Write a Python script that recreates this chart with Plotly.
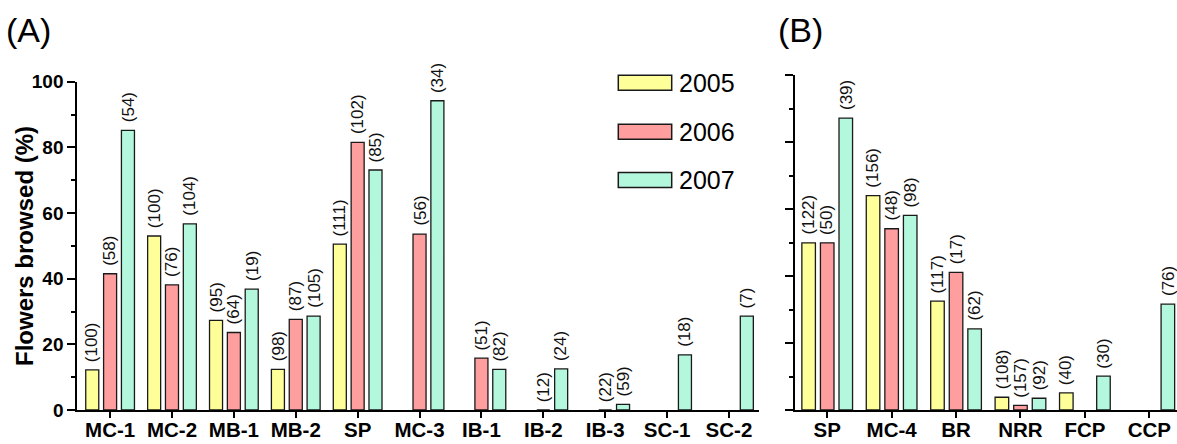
import plotly.graph_objects as go

W, H = 1177, 444

years = ["2005", "2006", "2007"]
colors = ["#FFFF99", "#FF9E9E", "#B3F7DD"]

# Panel A
cats_a = ["MC-1", "MC-2", "MB-1", "MB-2", "SP", "MC-3", "IB-1", "IB-2", "IB-3", "SC-1", "SC-2"]
a_2005 = [12.2, 53.0, 27.3, 12.4, 50.5, None, None, None, None, None, None]
a_2006 = [41.5, 38.1, 23.6, 27.6, 81.5, 53.6, 15.8, 0, 0, None, None]
a_2007 = [85.2, 56.7, 36.8, 28.6, 73.1, 94.2, 12.4, 12.5, 1.7, 16.8, 28.6]
n_a_2005 = [100, 100, 95, 98, 111, None, None, None, None, None, None]
n_a_2006 = [58, 76, 64, 87, 102, 56, 51, 12, 22, None, None]
n_a_2007 = [54, 104, 19, 105, 85, 34, 82, 24, 59, 18, 7]

# Panel B
cats_b = ["SP", "MC-4", "BR", "NRR", "FCP", "CCP"]
b_2005 = [49.9, 64.0, 32.5, 3.8, 5.1, None]
b_2006 = [49.9, 54.1, 41.1, 1.4, None, None]
b_2007 = [87.1, 58.1, 24.2, 3.5, 10.1, 31.6]
n_b_2005 = [122, 156, 117, 108, 40, None]
n_b_2006 = [50, 48, 17, 157, None, None]
n_b_2007 = [39, 98, 62, 92, 30, 76]

BARGAP = 0.135
BARGROUPGAP = 0.27
SLOT = (1 - BARGAP) / 3

def px_x(p):
    return p / W

def px_y(p):
    return (H - p) / H

fig = go.Figure()
annotations = []

panels = [
    ("x", "y", cats_a, [a_2005, a_2006, a_2007], [n_a_2005, n_a_2006, n_a_2007]),
    ("x2", "y2", cats_b, [b_2005, b_2006, b_2007], [n_b_2005, n_b_2006, n_b_2007]),
]
for xa, ya, cats, series, counts in panels:
    for j, (yr, col, vals, ns) in enumerate(zip(years, colors, series, counts)):
        fig.add_trace(go.Bar(
            x=cats, y=vals, name=yr, xaxis=xa, yaxis=ya,
            marker=dict(color=col, line=dict(color="#1a1a1a", width=1.3)),
            showlegend=False,
        ))
        for i, (v, n) in enumerate(zip(vals, ns)):
            if n is None:
                continue
            annotations.append(dict(
                x=i + (j - 1) * SLOT, y=v if v is not None else 0,
                xref=xa, yref=ya, text=f"({n})", showarrow=False,
                textangle=-90, xanchor="center", yanchor="bottom", yshift=6,
                font=dict(family="Liberation Sans", size=17, color="#111"),
            ))

axis_common = dict(showline=True, linecolor="black", linewidth=2, mirror=False,
                   showgrid=False, zeroline=False, ticks="outside", tickcolor="black",
                   tickwidth=2, automargin=False)

xtickfont = dict(family="Liberation Sans", size=20.5, color="black", weight="bold")
ytickfont = dict(family="Liberation Sans", size=19, color="black", weight="bold")

fig.update_layout(
    width=W, height=H, margin=dict(l=0, r=0, t=0, b=0, autoexpand=False),
    paper_bgcolor="white", plot_bgcolor="white",
    barmode="group", bargap=BARGAP, bargroupgap=BARGROUPGAP,
    xaxis=dict(domain=[px_x(77.3), px_x(759.3)], anchor="y", type="category",
               range=[-0.53, 10.49], ticklen=6, tickfont=xtickfont,
               ticklabelstandoff=-6, **axis_common),
    yaxis=dict(domain=[px_y(410), px_y(81.7)], anchor="x", range=[0, 100],
               tickvals=[0, 20, 40, 60, 80, 100], ticklen=8, tickfont=ytickfont,
               minor=dict(dtick=10, tick0=0, ticklen=4, tickwidth=2, tickcolor="black", ticks="outside"),
               **axis_common),
    xaxis2=dict(domain=[px_x(795), 1.0], anchor="y2", type="category",
                range=[-0.5, 5.43], ticklen=6, tickfont=xtickfont,
                ticklabelstandoff=-6, **axis_common),
    yaxis2=dict(domain=[px_y(410), px_y(75)], anchor="x2", range=[0, 100],
                tickvals=[0, 20, 40, 60, 80, 100], ticklen=8, showticklabels=False,
                minor=dict(dtick=10, tick0=0, ticklen=4, tickwidth=2, tickcolor="black", ticks="outside"),
                **axis_common),
)

# Axis title
annotations.append(dict(x=px_x(24), y=px_y(246), xref="paper", yref="paper",
                        text="Flowers browsed (%)", showarrow=False, textangle=-90,
                        xanchor="center", yanchor="middle",
                        font=dict(family="Liberation Sans", size=24, color="black", weight="bold")))
# Panel labels
for lab, xp in [("(A)", 4), ("(B)", 776)]:
    annotations.append(dict(x=px_x(xp), y=px_y(30), xref="paper", yref="paper",
                            text=lab, showarrow=False, xanchor="left", yanchor="middle",
                            font=dict(family="Liberation Sans", size=34, color="black")))

# Legend drawn as swatches + text
shapes = []
row_y = [82.7, 131.7, 180.0]
for yr, col, yc in zip(years, colors, row_y):
    shapes.append(dict(type="rect", xref="paper", yref="paper",
                       x0=px_x(618.3), x1=px_x(671.7), y0=px_y(yc + 7.5), y1=px_y(yc - 7.5),
                       fillcolor=col, line=dict(color="#1a1a1a", width=1.5)))
    annotations.append(dict(x=px_x(677), y=px_y(yc), xref="paper", yref="paper",
                            text=yr, showarrow=False, xanchor="left", yanchor="middle",
                            font=dict(family="Liberation Sans", size=25, color="black")))

fig.update_layout(annotations=annotations, shapes=shapes)
fig.write_html("out.html")
